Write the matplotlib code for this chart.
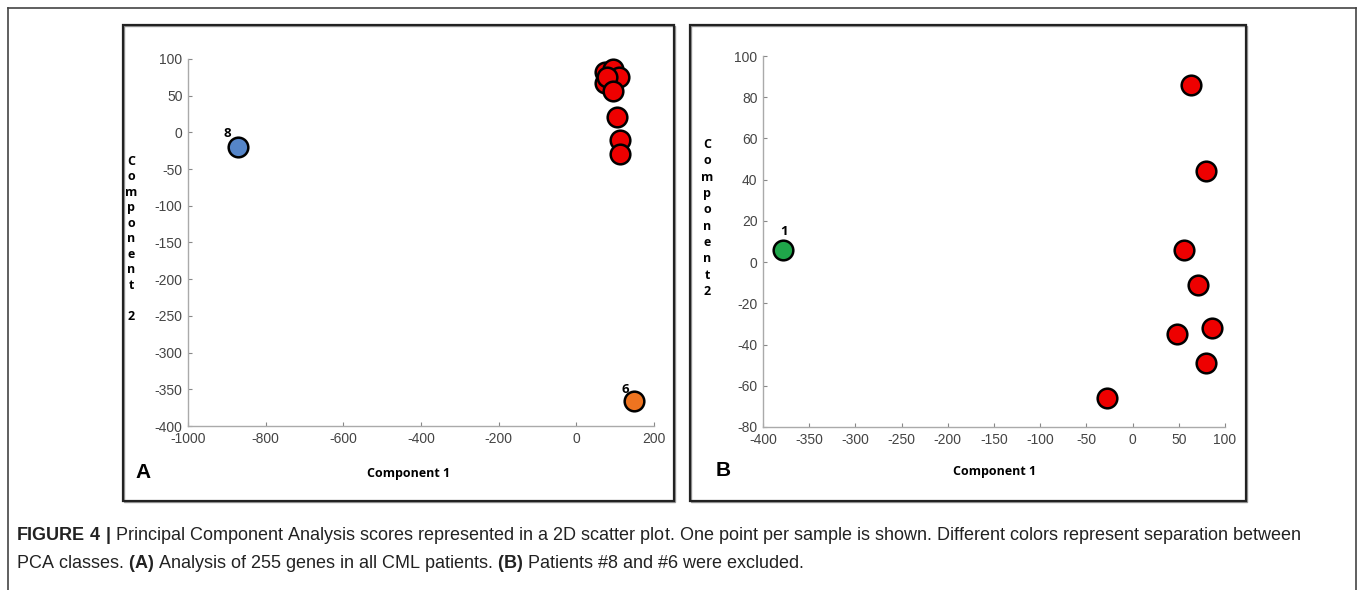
import numpy as np
import matplotlib
matplotlib.use("Agg")
import matplotlib.pyplot as plt
from matplotlib.patches import Rectangle
from matplotlib.lines import Line2D

plt.rcParams['axes.unicode_minus'] = False
plt.rcParams['mathtext.fontset'] = 'custom'
plt.rcParams['mathtext.rm'] = 'Liberation Sans'
plt.rcParams['mathtext.bf'] = 'Liberation Sans:bold'

# panel A: all patients
a_red_x = [74, 94, 111, 74, 78, 94, 106, 112, 112]
a_red_y = [82, 86, 76, 67, 75, 57, 21, -10, -30]
a_blue_x, a_blue_y = [-872], [-20]
a_orange_x, a_orange_y = [149], [-366]
a_xticks = [-1000, -800, -600, -400, -200, 0, 200]
a_yticks = [-400, -350, -300, -250, -200, -150, -100, -50, 0, 50, 100]

# panel B: patients #8 and #6 excluded
b_red_x = [63, 79, 56, 71, 86, 48, 79, -28]
b_red_y = [86, 44, 6, -11, -32, -35, -49, -66]
b_green_x, b_green_y = [-378], [6]
b_xticks = [-400, -350, -300, -250, -200, -150, -100, -50, 0, 50, 100]
b_yticks = [-80, -60, -40, -20, 0, 20, 40, 60, 80, 100]

W, H = 1358, 590
fig = plt.figure(figsize=(W/100, H/100), dpi=100)

def fx(x): return x/W
def fy(y): return 1 - y/H

# outer frame (open at bottom)
for xs, ys in [([8, 8], [590, 8]), ([8, 1356], [8, 8]), ([1356, 1356], [8, 590])]:
    fig.add_artist(Line2D([fx(v) for v in xs], [fy(v) for v in ys], color='#444444', lw=1.2))

# panel boxes
for x0, x1 in [(123, 674), (690, 1246)]:
    fig.add_artist(Rectangle((fx(x0)+0.0008, fy(501)-0.002), fx(x1-x0), fy(25)-fy(501),
                             fill=False, ec='#999999', lw=1.0))
    fig.add_artist(Rectangle((fx(x0), fy(501)), fx(x1-x0), fy(25)-fy(501),
                             fill=False, ec='#222222', lw=1.6))

red = '#ee0000'
mk = dict(s=200, edgecolors='black', linewidths=1.8, zorder=3, clip_on=False)

def style(ax, xt, yt):
    ax.set_xticks(xt)
    ax.set_yticks(yt)
    ax.set_xlim(xt[0], xt[-1])
    ax.set_ylim(yt[0], yt[-1])
    for s in ['top', 'right']:
        ax.spines[s].set_visible(False)
    for s in ['left', 'bottom']:
        ax.spines[s].set_color('#aaaaaa')
        ax.spines[s].set_linewidth(1.0)
    ax.tick_params(direction='in', length=3, color='#888888', labelcolor='#444444',
                   labelsize=10, pad=4)
    for lab in ax.get_xticklabels() + ax.get_yticklabels():
        lab.set_family('Liberation Sans')
    ax.patch.set_alpha(0)

# panel A
axA = fig.add_axes([fx(188), fy(426), fx(654-188), fy(59)-fy(426)])
style(axA, a_xticks, a_yticks)
axA.scatter(a_red_x, a_red_y, color=red, **mk)
axA.scatter(a_blue_x, a_blue_y, color='#5585c8', **mk)
axA.scatter(a_orange_x, a_orange_y, color='#ee7420', **mk)
axA.text(-898, -1, '8', fontsize=9.5, fontweight='bold', family='Open Sans', ha='center', va='center')
axA.text(126, -350, '6', fontsize=9.5, fontweight='bold', family='Open Sans', ha='center', va='center')

# panel B
axB = fig.add_axes([fx(763), fy(427), fx(1225-763), fy(56)-fy(427)])
style(axB, b_xticks, b_yticks)
axB.scatter(b_red_x, b_red_y, color=red, **mk)
axB.scatter(b_green_x, b_green_y, color='#1fa64a', **mk)
axB.text(-377, 15, '1', fontsize=9.5, fontweight='bold', family='Open Sans', ha='center', va='center')

# stacked y labels
fig.text(fx(131), fy(239), 'C\no\nm\np\no\nn\ne\nn\nt\n\n2', fontsize=9, fontweight='bold',
         family='Open Sans', ha='center', va='center', multialignment='center', linespacing=1.25)
fig.text(fx(707), fy(218), 'C\no\nm\np\no\nn\ne\nn\nt\n2', fontsize=9, fontweight='bold',
         family='Open Sans', ha='center', va='center', multialignment='center', linespacing=1.33)

# x labels and panel letters
fig.text(fx(409), fy(473), 'Component 1', fontsize=9, fontweight='bold', family='Open Sans',
         ha='center', va='center')
fig.text(fx(995), fy(471), 'Component 1', fontsize=9, fontweight='bold', family='Open Sans',
         ha='center', va='center')
fig.text(fx(143), fy(473), 'A', fontsize=15, fontweight='bold', family='Liberation Sans',
         ha='center', va='center')
fig.text(fx(723), fy(471), 'B', fontsize=15, fontweight='bold', family='Liberation Sans',
         ha='center', va='center')

# caption
cap1 = (r'$\mathbf{FIGURE\ 4\ |}$ Principal Component Analysis scores represented in a 2D scatter plot. '
        'One point per sample is shown. Different colors represent separation between')
cap2 = (r'PCA classes. $\mathbf{(A)}$ Analysis of 255 genes in all CML patients. '
        r'$\mathbf{(B)}$ Patients #8 and #6 were excluded.')
fig.text(fx(16), fy(536), cap1, fontsize=13, family='Liberation Sans', color='#222222', va='center')
fig.text(fx(16), fy(563), cap2, fontsize=13, family='Liberation Sans', color='#222222', va='center')

fig.savefig('out.png', dpi=100)
